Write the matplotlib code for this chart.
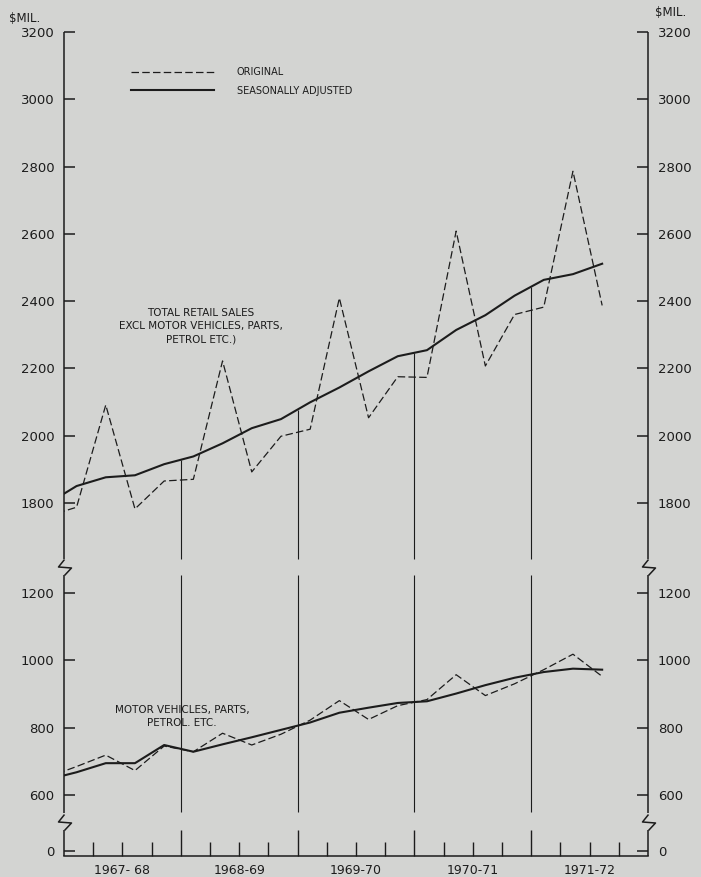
import numpy as np
import matplotlib
matplotlib.use('Agg')
import matplotlib.pyplot as plt
from matplotlib.path import Path

# quarterly sales, $ million, June qtr 1967 .. March qtr 1972
# (the June 1967 point lies left of the axis and is clipped)
retail_orig = [1760, 1787, 2091, 1782, 1865, 1870, 2222, 1892, 1998, 2019,
               2409, 2053, 2175, 2173, 2608, 2207, 2360, 2382, 2786, 2387]
retail_sa = [1797, 1850, 1876, 1882, 1915, 1938, 1977, 2022, 2049, 2099,
             2143, 2191, 2236, 2254, 2314, 2358, 2416, 2463, 2480, 2511]
motor_orig = [652, 684, 718, 672, 745, 728, 783, 748, 780, 822,
              880, 824, 865, 883, 957, 895, 930, 972, 1018, 952]
motor_sa = [645, 667, 694, 694, 748, 728, 750, 771, 793, 815,
            844, 859, 873, 878, 901, 926, 948, 965, 975, 972]

years = ['1967- 68', '1968-69', '1969-70', '1970-71', '1971-72']
yticks = [0, 600, 800, 1000, 1200, 1800, 2000, 2200, 2400, 2600, 2800, 3000, 3200]

bg = '#d3d4d2'
ink = '#1c1c1c'
plt.rcParams['font.family'] = 'DejaVu Sans'
plt.rcParams['text.color'] = ink

# x in quarters from July 1967, points plotted a bit before mid quarter
xq = np.arange(len(retail_orig)) - 1 + 0.43

# broken y axis: value knots and the squeezed positions they map to
knot_v = [-15, 60, 548, 1253, 1632, 3200]
knot_p = [0, 75, 130, 835, 882, 2450]


def fwd(v):
    return np.interp(v, knot_v, knot_p)


def inv(p):
    return np.interp(p, knot_p, knot_v)


fig = plt.figure(figsize=(7.01, 8.77), dpi=100, facecolor=bg)
ax = fig.add_axes([64 / 701, 21 / 877, 584 / 701, 824 / 877])
ax.set_facecolor(bg)
ax.set_yscale('function', functions=(fwd, inv))
ax.set_xlim(0, 20)
ax.set_ylim(-15, 3200)

dash = (0, (6, 2.6))
l1, = ax.plot(xq, retail_orig, color=ink, lw=0.9, ls=dash)
l2, = ax.plot(xq, retail_sa, color=ink, lw=1.5)
ax.plot(xq, motor_orig, color=ink, lw=0.9, ls=dash)
ax.plot(xq, motor_sa, color=ink, lw=1.5)

# year separators: top part hangs from the adjusted line, bottom part fills the lower band
bounds = np.array([4, 8, 12, 16])
ax.vlines(bounds, 1632, np.interp(bounds, xq, retail_sa), color=ink, lw=0.8)
ax.vlines(bounds, 548, 1253, color=ink, lw=0.8)

# spines drawn by hand so they can carry the break marks
for s in ['left', 'right', 'top']:
    ax.spines[s].set_visible(False)
ax.spines['bottom'].set_linewidth(1.1)
ax.spines['bottom'].set_color(ink)

low_c = inv((fwd(60) + fwd(548)) / 2)
top_c = inv((fwd(1253) + fwd(1632)) / 2)
low_a = inv(fwd(low_c) - 24)
low_b = inv(fwd(low_c) + 24)
zig = Path([(0, 8), (-6, 0.5), (7, -0.5), (0, -8)])
for xs in [0, 1]:
    tr = ax.get_yaxis_transform()
    for a, b in [(-15, low_a), (low_b, 1253), (1632, 3200)]:
        ax.plot([xs, xs], [a, b], color=ink, lw=1.1, transform=tr, clip_on=False,
                solid_capstyle='butt')
    ax.plot([xs, xs], [low_c, top_c], ls='none', marker=zig, ms=11.5, mew=1.1,
            mec=ink, mfc='none', transform=tr, clip_on=False)

ax.set_yticks(yticks)
ax.set_yticklabels([str(t) for t in yticks])
ax.yaxis.set_ticks_position('both')
ax.tick_params(axis='y', direction='in', length=8, width=1.1, color=ink,
               labelsize=9.5, labelcolor=ink, pad=7, labelright=True)

ax.set_xticks(bounds)
ax.set_xticks([q for q in range(1, 20) if q % 4], minor=True)
ax.set_xticklabels([])
ax.tick_params(axis='x', which='major', direction='in', length=18.5, width=1, color=ink)
ax.tick_params(axis='x', which='minor', direction='in', length=10, width=1, color=ink)

for i, lab in enumerate(years):
    ax.text(i * 4 + 2, -0.017, lab, transform=ax.get_xaxis_transform(),
            ha='center', va='center', fontsize=9)

fig.text(25 / 701, 1 - 18 / 877, '$MIL.', ha='center', va='center', fontsize=8.5)
fig.text(655 / 701, 1 - 13 / 877, '$MIL.', ha='left', va='center', fontsize=8.5)

ax.text(4.69, 2325, 'TOTAL RETAIL SALES\nEXCL MOTOR VEHICLES, PARTS,\nPETROL ETC.)',
        ha='center', va='center', multialignment='center', fontsize=7.5, linespacing=1.45)
ax.text(4.04, 833, 'MOTOR VEHICLES, PARTS,\nPETROL. ETC.',
        ha='center', va='center', multialignment='center', fontsize=7.5, linespacing=1.45)

ax.legend([l1, l2], ['ORIGINAL', 'SEASONALLY ADJUSTED'], loc='upper left',
          bbox_to_anchor=(131 / 701, 1 - 67 / 877), bbox_transform=fig.transFigure,
          frameon=False, fontsize=7, handlelength=8.5, handletextpad=2.4,
          labelspacing=0.9, borderpad=0, borderaxespad=0)

fig.savefig('out.png', dpi=100, facecolor=bg)
